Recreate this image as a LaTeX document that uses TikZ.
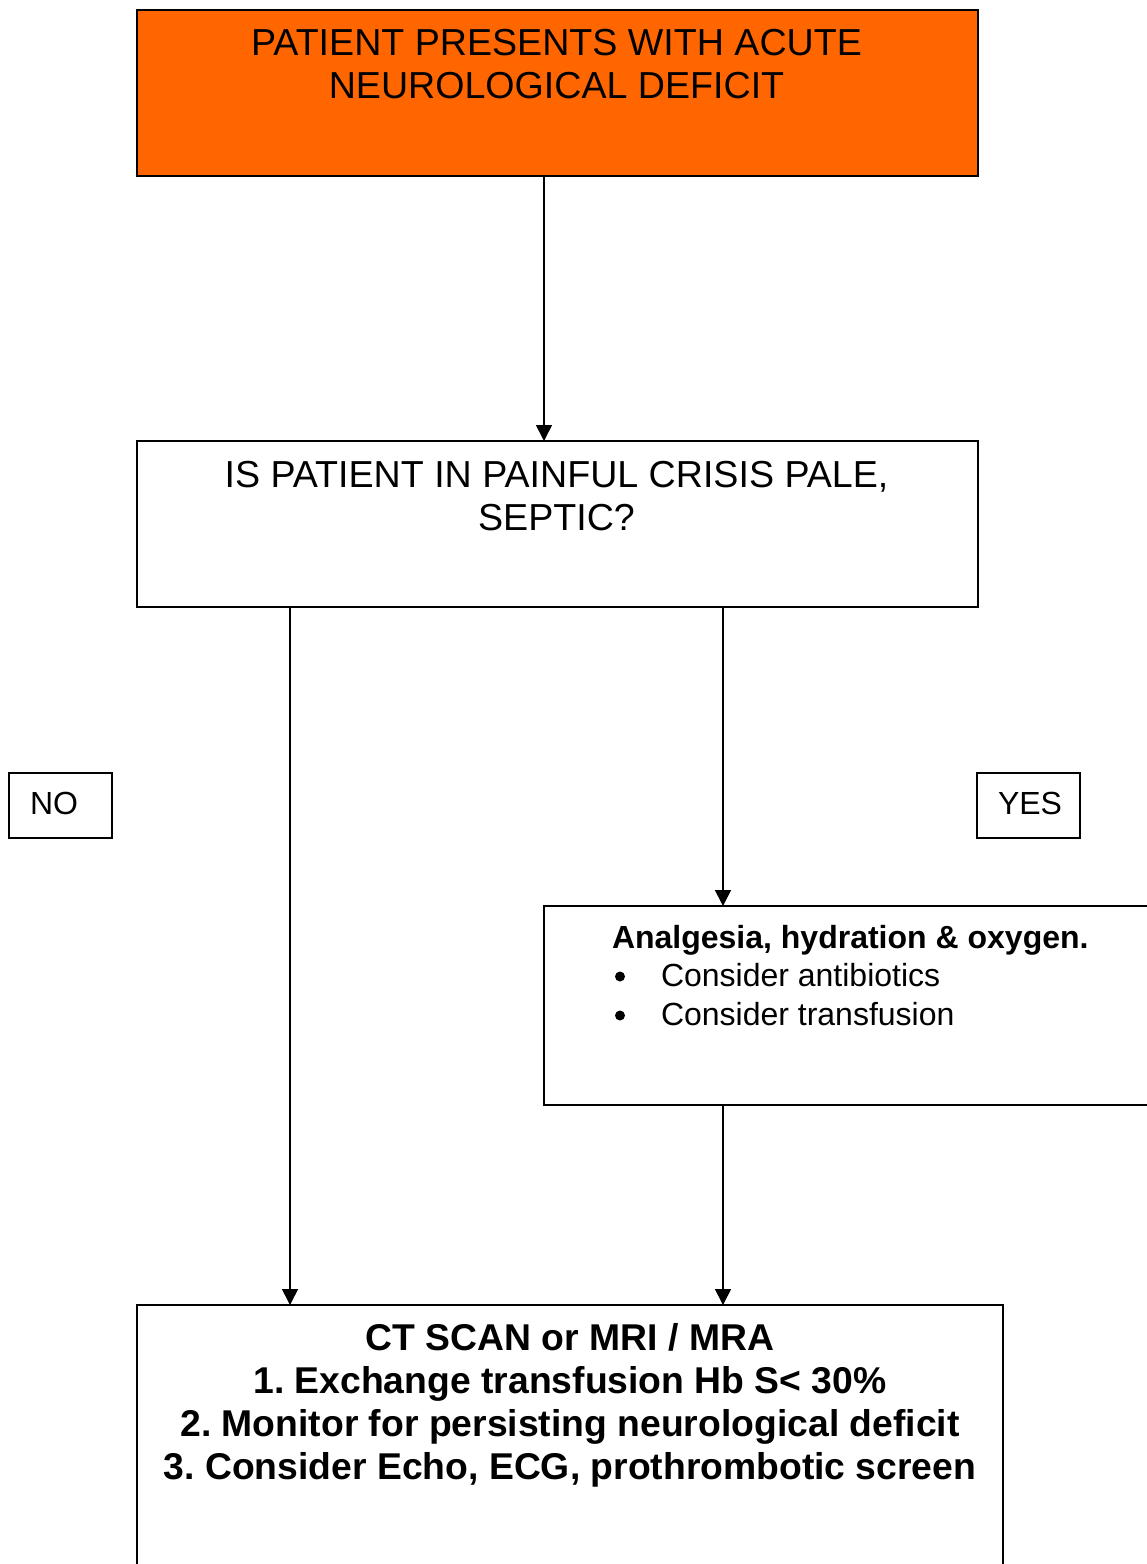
\documentclass[tikz,border=0pt]{standalone}
\usepackage{fontspec}
\setmainfont{Liberation Sans}
\usetikzlibrary{arrows.meta}
\frenchspacing
\definecolor{topfill}{HTML}{FF6600}
\tikzset{
  box/.style={draw=black, line width=1.6pt, anchor=north west, inner sep=0pt, outer sep=0pt},
  txt/.style={inner sep=0pt, outer sep=0pt, anchor=base, font=\fontsize{37.6}{43}\selectfont},
  btxt/.style={txt, font=\fontsize{37.3}{43}\selectfont\bfseries},
  stxt/.style={inner sep=0pt, outer sep=0pt, anchor=base west, font=\fontsize{32}{39}\selectfont},
  bul/.style={circle, fill=black, inner sep=0pt, minimum size=10pt},
  arr/.style={line width=1.6pt, -{Triangle[width=16pt,length=16pt]}, shorten >=0pt}
}
\begin{document}
\begin{tikzpicture}[x=1pt,y=-1pt]
\clip (0,0) rectangle (1147,1564);
\fill[white] (0,0) rectangle (1147,1564);
% boxes
\node[box, fill=topfill, minimum width=841pt, minimum height=166pt] (top) at (137,10) {};
\node[box, minimum width=841pt, minimum height=166pt] (q) at (137,441) {};
\node[box, minimum width=103pt, minimum height=65pt] (no) at (9,773) {};
\node[box, minimum width=103pt, minimum height=65pt] (yes) at (977,773) {};
\node[box, minimum width=640pt, minimum height=199pt] (treat) at (544,906) {};
\node[box, minimum width=866pt, minimum height=300pt] (ct) at (137,1305) {};
% texts
\node[txt] (t1) at (556.5,55.5) {PATIENT PRESENTS WITH ACUTE};
\node[txt] (t2) at (556.5,98.5) {NEUROLOGICAL DEFICIT};
\node[txt] (q1) at (556.5,487.5) {IS PATIENT IN PAINFUL CRISIS PALE,};
\node[txt] (q2) at (556.5,530.5) {SEPTIC?};
\node[stxt] (nol) at (30,814.5) {NO};
\node[stxt] (yesl) at (998,814.5) {YES};
\node[stxt, font=\fontsize{32}{39}\selectfont\bfseries] (h1) at (612,948) {Analgesia, hydration \& oxygen.};
\node[bul] (b1) at (620,976.5) {};
\node[stxt] (l1) at (661,986.5) {Consider antibiotics};
\node[bul] (b2) at (620,1015.5) {};
\node[stxt] (l2) at (661,1025.5) {Consider transfusion};
\node[btxt] (c1) at (570,1350) {CT SCAN or MRI / MRA};
\node[btxt] (c2) at (570,1393) {1. Exchange transfusion Hb S< 30\%};
\node[btxt] (c3) at (570,1436) {2. Monitor for persisting neurological deficit};
\node[btxt] (c4) at (570,1479) {3. Consider Echo, ECG, prothrombotic screen};
% connectors
\coordinate (xa) at (544,0);
\coordinate (xl) at (290,0);
\coordinate (xr) at (723,0);
\draw[arr] (top.south -| xa) -- (q.north -| xa);
\draw[arr] (q.south -| xl) -- (ct.north -| xl);
\draw[arr] (q.south -| xr) -- (treat.north -| xr);
\draw[arr] (treat.south -| xr) -- (ct.north -| xr);
\end{tikzpicture}
\end{document}
